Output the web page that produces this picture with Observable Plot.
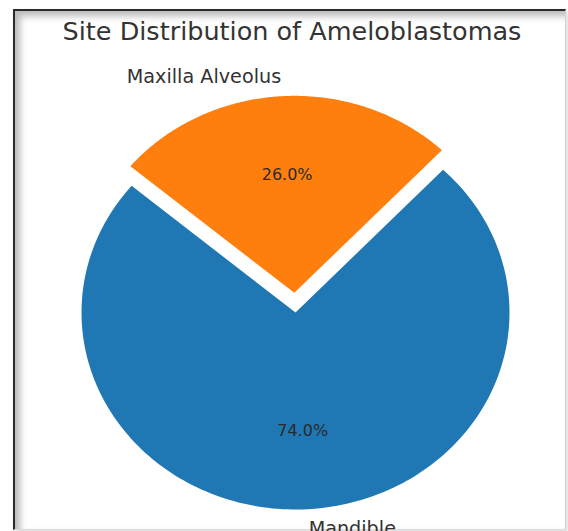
<!DOCTYPE html>
<html><head><meta charset="utf-8">
<script src="https://cdn.jsdelivr.net/npm/d3@7"></script>
<script src="https://cdn.jsdelivr.net/npm/@observablehq/plot@0.6"></script>
<style>
body{margin:0;background:#fff;font-family:"DejaVu Sans",sans-serif;}
#wrap{position:relative;width:568px;height:531px;overflow:hidden;background:#fff;}
#frame{position:absolute;left:13px;top:9px;width:550px;height:518px;border-left:2px solid #2a2a2a;border-top:2px solid #2a2a2a;border-right:1px solid #d4d4d4;border-bottom:1px solid #dcdcdc;box-shadow:inset 5px 5px 7px rgba(0,0,0,0.28), 2px 2px 4px rgba(0,0,0,0.15);}
#title{position:absolute;left:0;width:584px;top:19px;line-height:1;text-align:center;font-size:25.5px;color:#333;white-space:nowrap;}
#chart{position:absolute;left:0;top:0;}
</style></head>
<body>
<div id="wrap"><div id="frame"></div><div id="title">Site Distribution of Ameloblastomas</div><div id="chart"></div></div>
<script>
// ---- data ----
const labels = ["Mandible", "Maxilla Alveolus"];
const values = [74, 26];
const explode = [0, 0.1];
const colors = ["#1f77b4", "#ff7f0e"];
const startAngle = 140;
const title = "Site Distribution of Ameloblastomas";

// ---- layout ----
const W = 568, H = 531;
const cx = 295, cy = 312, rx = 214, ry = 197;
const labelDistance = 1.1, pctDistance = 0.6;

const total = d3.sum(values);
let cum = 0;
const slices = values.map((v, i) => {
  const t1 = startAngle + 360 * cum / total;
  cum += v;
  const t2 = startAngle + 360 * cum / total;
  const mid = (t1 + t2) / 2 * Math.PI / 180;
  const ox = explode[i] * Math.cos(mid), oy = explode[i] * Math.sin(mid);
  const pts = [{x: ox, y: oy}];
  const n = 200;
  for (let k = 0; k <= n; k++) {
    const a = (t1 + (t2 - t1) * k / n) * Math.PI / 180;
    pts.push({x: ox + Math.cos(a), y: oy + Math.sin(a)});
  }
  pts.push({x: ox, y: oy});
  return {
    label: labels[i], value: v, color: colors[i], pts,
    lx: ox + labelDistance * Math.cos(mid), ly: oy + labelDistance * Math.sin(mid),
    px: ox + pctDistance * Math.cos(mid), py: oy + pctDistance * Math.sin(mid),
    pct: (v / total * 100).toFixed(1) + "%"
  };
});

const marks = [];
slices.forEach(s => {
  marks.push(Plot.line(s.pts, {x: "x", y: "y", fill: s.color, stroke: "none", curve: "linear"}));
});
slices.forEach(s => {
  marks.push(Plot.text([s], {x: "px", y: "py", text: "pct", fontSize: 16, fill: "#2a2a2a", textAnchor: "middle", lineAnchor: "middle"}));
  marks.push(Plot.text([s], {x: "lx", y: "ly", text: "label", fontSize: 19.2, fill: "#333", textAnchor: s.lx >= 0 ? "start" : "end", lineAnchor: "middle"}));
});

const chart = Plot.plot({
  width: W, height: H,
  margin: 0,
  x: {domain: [-cx / rx, (W - cx) / rx], range: [0, W], axis: null},
  y: {domain: [-(H - cy) / ry, cy / ry], range: [H, 0], axis: null},
  style: {background: "transparent", fontFamily: "DejaVu Sans", overflow: "hidden"},
  marks
});
document.getElementById("chart").appendChild(chart);
document.getElementById("title").textContent = title;
</script>
</body></html>
